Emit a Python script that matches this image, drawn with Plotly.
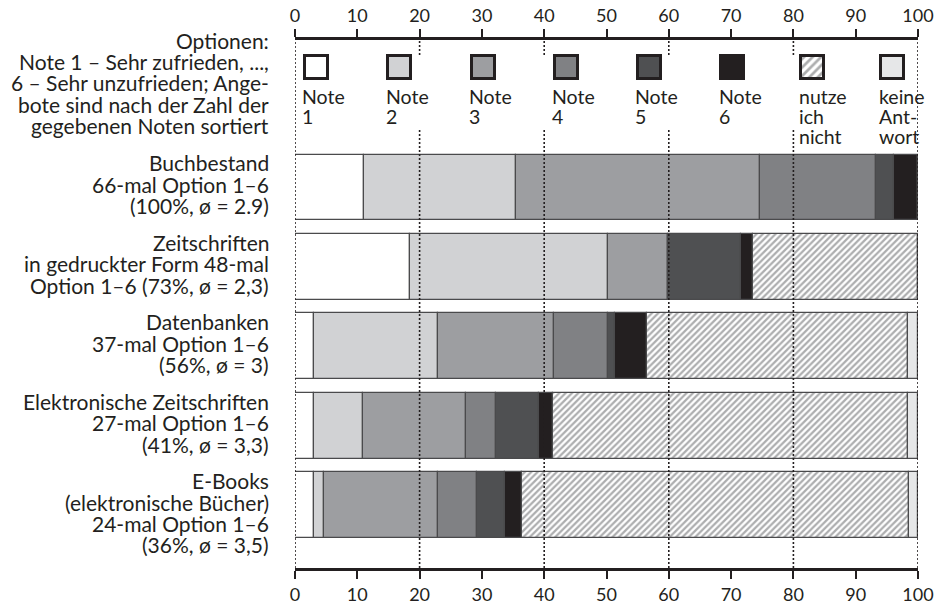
import plotly.graph_objects as go
import numpy as np

# ---------------- data ----------------
categories = ["Buchbestand", "Zeitschriften in gedruckter Form", "Datenbanken",
              "Elektronische Zeitschriften", "E-Books"]
note1 = [11.0, 18.5, 3.0, 3.0, 3.0]
note2 = [24.4, 31.8, 19.9, 7.9, 1.6]
note3 = [39.3, 9.5, 18.6, 16.6, 18.3]
note4 = [18.5, 0.0, 8.7, 4.7, 6.3]
note5 = [3.0, 11.8, 1.2, 6.9, 4.5]
note6 = [3.8, 1.9, 5.1, 2.3, 2.8]
nutze_nicht = [0.0, 26.5, 41.9, 57.0, 62.0]
keine_antwort = [0.0, 0.0, 1.6, 1.6, 1.5]

series_names = ["Note 1", "Note 2", "Note 3", "Note 4", "Note 5", "Note 6",
                "nutze ich nicht", "keine Antwort"]
legend_lines = [["Note", "1"], ["Note", "2"], ["Note", "3"], ["Note", "4"],
                ["Note", "5"], ["Note", "6"], ["nutze", "ich", "nicht"],
                ["keine", "Ant-", "wort"]]
category_lines = [
    ["Buchbestand", "66-mal Option 1–6", "(100%, ø = 2.9)"],
    ["Zeitschriften", "in gedruckter Form 48-mal", "Option 1–6 (73%, ø = 2,3)"],
    ["Datenbanken", "37-mal Option 1–6", "(56%, ø = 3)"],
    ["Elektronische Zeitschriften", "27-mal Option 1–6", "(41%, ø = 3,3)"],
    ["E-Books", "(elektronische Bücher)", "24-mal Option 1–6", "(36%, ø = 3,5)"],
]
intro_lines = ["Optionen:", "Note 1 – Sehr zufrieden, ...,",
               "6 – Sehr unzufrieden; Ange-", "bote sind nach der Zahl der",
               "gegebenen Noten sortiert"]
x_ticks = list(range(0, 101, 10))
grid_vals = [0, 20, 40, 60, 80, 100]

# ---------------- styles / layout ----------------
colors = ["#ffffff", "#d1d2d4", "#9d9ea1", "#808184", "#4f5052", "#231f20",
          "#ffffff", "#e6e7e8"]
INK = "#231f20"
EDGE = "#4a4a4c"
FONT = "Lato"
FS_TICK = 18
FS_LABEL = 21
FS_LEG = 19.5

W, H = 948, 604
ML, MR, MT, MB = 295, 30, 40, 36
PH = H - MT - MB
PW = W - ML - MR
PITCH = 79.4
FIRST_PX = 187.5


def ydata(px):
    return (px - FIRST_PX) / PITCH


def ypaper(px):
    return (H - MB - px) / PH


def xunits(px):
    return px * 100.0 / PW


series = [note1, note2, note3, note4, note5, note6, nutze_nicht, keine_antwort]
vals = np.array(series, dtype=float)
starts = np.vstack([np.zeros(vals.shape[1]), np.cumsum(vals, axis=0)[:-1]])
ypos = list(range(len(categories)))

fig = go.Figure()
for k, name in enumerate(series_names):
    marker = dict(color=colors[k], line=dict(color=EDGE, width=1.2))
    if k == 6:
        marker["pattern"] = dict(shape="/", size=4.5, solidity=0.5,
                                 fgcolor="#5a5b5e", bgcolor="#ffffff")
    fig.add_trace(go.Bar(
        y=ypos, x=vals[k], base=starts[k], orientation="h", width=0.83,
        marker=marker, name=name, showlegend=False, hoverinfo="x+name"))

# custom legend swatches (on the top axis, same scale)
legend_left_px = [303.3, 386.7, 470.0, 553.0, 636.3, 719.7, 799.7, 879.7]
SW = 23.0
for k, name in enumerate(series_names):
    marker = dict(color=colors[k], line=dict(color=INK, width=3))
    if k == 6:
        marker["pattern"] = dict(shape="/", size=6, solidity=0.45,
                                 fgcolor="#5a5b5e", bgcolor="#ffffff")
    fig.add_trace(go.Bar(
        y=[ydata(67.5)], x=[xunits(SW)],
        base=[xunits(legend_left_px[k] + 1.5 - ML)],
        orientation="h", width=SW / PITCH, marker=marker,
        xaxis="x2", showlegend=False, hoverinfo="skip"))

annotations = []
for k, lines in enumerate(legend_lines):
    for i, t in enumerate(lines):
        annotations.append(dict(
            xref="x", yref="paper",
            x=xunits(legend_left_px[k] - ML), y=ypaper(96 + 20.3 * i),
            xanchor="left", yanchor="middle", xshift=-2, borderpad=0,
            text=t, showarrow=False, font=dict(family=FONT, size=FS_LEG, color=INK)))

LH = 21.4
for c, lines in enumerate(category_lines):
    top_px = FIRST_PX + c * PITCH - 33 + 8.5
    for i, t in enumerate(lines):
        annotations.append(dict(
            xref="paper", yref="paper", x=0, y=ypaper(top_px + LH * i),
            xanchor="right", yanchor="middle", xshift=-25, borderpad=0,
            text=t, showarrow=False, font=dict(family=FONT, size=FS_LABEL, color=INK)))

for i, t in enumerate(intro_lines):
    annotations.append(dict(
        xref="paper", yref="paper", x=0, y=ypaper(40 + LH * i),
        xanchor="right", yanchor="middle", xshift=-25, borderpad=0,
        text=t, showarrow=False, font=dict(family=FONT, size=FS_LABEL, color=INK)))

shapes = []
for v in grid_vals:
    dot = dict(type="line", xref="x", yref="paper", x0=v, x1=v, layer="above",
               line=dict(color=INK, width=1.6, dash="2px,2px"))
    if v in (0, 100):
        shapes.append(dict(dot, y0=0, y1=1))
    else:
        shapes.append(dict(dot, y0=0, y1=ypaper(129)))
        shapes.append(dict(dot, y0=ypaper(55), y1=1))

axis_common = dict(range=[0, 100], tickvals=x_ticks, ticks="outside",
                   ticklen=8, tickwidth=1.5, tickcolor=INK, showline=True,
                   linewidth=3, linecolor=INK, showgrid=False, zeroline=False,
                   automargin=False,
                   tickfont=dict(family=FONT, size=FS_TICK, color=INK), fixedrange=True)

fig.update_layout(
    width=W, height=H,
    margin=dict(l=ML, r=MR, t=MT, b=MB, pad=0, autoexpand=False),
    paper_bgcolor="white", plot_bgcolor="white", barmode="overlay",
    bargap=0, showlegend=False,
    xaxis=dict(axis_common, side="bottom", anchor="y"),
    xaxis2=dict(axis_common, side="top", overlaying="x", anchor="y"),
    yaxis=dict(range=[ydata(H - MB), ydata(MT)], visible=False,
               fixedrange=True, automargin=False),
    annotations=annotations, shapes=shapes,
)

fig.write_html(
    "out.html", config={"displayModeBar": False},
    post_script=("document.documentElement.style.margin='0';"
                 "document.documentElement.style.overflow='hidden';"
                 "document.body.style.margin='0';document.body.style.padding='0';"
                 "document.body.style.overflow='hidden';"))
